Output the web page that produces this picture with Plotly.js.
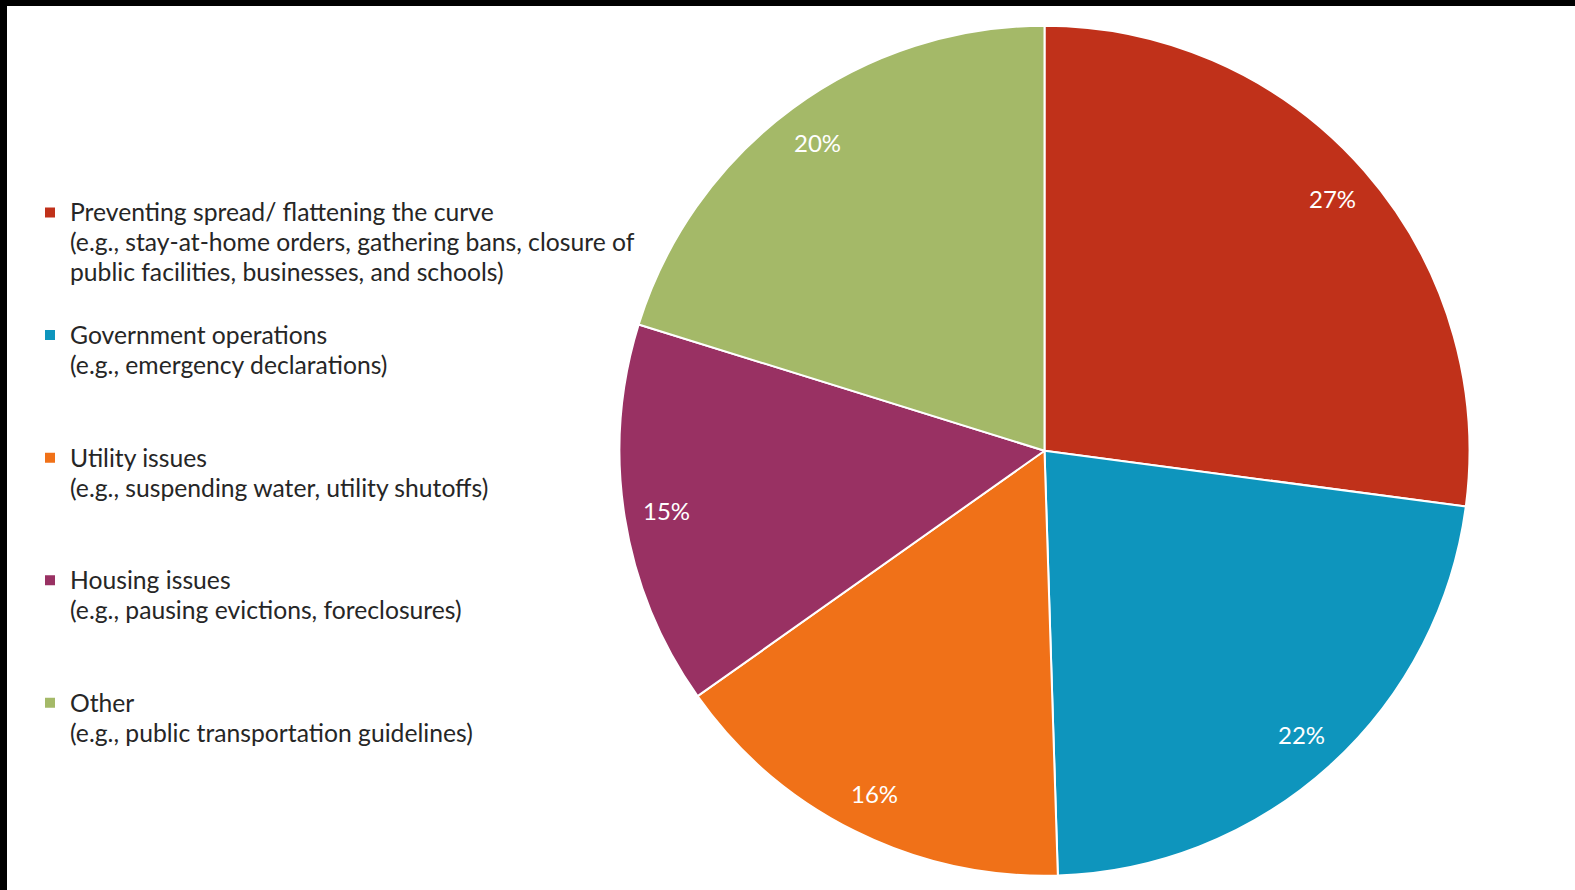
<!DOCTYPE html>
<html>
<head>
<meta charset="utf-8">
<script src="https://cdn.plot.ly/plotly-3.0.1.min.js"></script>
<style>
  html, body { margin: 0; padding: 0; background: #ffffff; }
  #chart { width: 1575px; height: 890px; }
</style>
</head>
<body>
<div id="chart"></div>
<script>
const categories = [
  "Preventing spread/ flattening the curve",
  "Government operations",
  "Utility issues",
  "Housing issues",
  "Other"
];
const examples = [
  "(e.g., stay-at-home orders, gathering bans, closure of<br>public facilities, businesses, and schools)",
  "(e.g., emergency declarations)",
  "(e.g., suspending water, utility shutoffs)",
  "(e.g., pausing evictions, foreclosures)",
  "(e.g., public transportation guidelines)"
];
const shares = [27.1, 22.4, 15.7, 14.6, 20.2];
const colors = ["#C0311A", "#0E95BD", "#F07118", "#993163", "#A4B968"];

const W = 1575, H = 890;
const cx = 1044.5, cyTop = 450.7, R = 425;
const dom = {
  x: [(cx - R) / W, (cx + R) / W],
  y: [(H - cyTop - R) / H, (H - cyTop + R) / H]
};

// legend labels padded to equal 4-line height
const NB = "\u00a0";
const labels = categories.map((c, i) => {
  const lines = [c].concat(examples[i].split("<br>"));
  while (lines.length < 4) lines.push(NB);
  return lines.map(l => '<span style="font-size:24.7px">' + l + '</span>').join("<br>");
});

// percentage labels placed along each slice's mid-angle
const total = shares.reduce((a, b) => a + b, 0);
const annotations = [];
let cum = 0;
shares.forEach((v) => {
  const mid = (cum + v / 2) / total * 2 * Math.PI;
  cum += v;
  const px = cx + 0.90 * R * Math.sin(mid);
  const py = cyTop - 0.90 * R * Math.cos(mid);
  annotations.push({
    x: px / W, y: 1 - py / H, xref: "paper", yref: "paper",
    text: Math.round(v / total * 100) + "%",
    showarrow: false, xanchor: "center", yanchor: "middle",
    font: { family: "Lato, sans-serif", size: 24, color: "#ffffff" }
  });
});

const trace = {
  type: "pie",
  labels: labels,
  values: shares,
  sort: false,
  direction: "clockwise",
  rotation: 0,
  marker: { colors: colors, line: { color: "#ffffff", width: 2 } },
  textinfo: "none",
  hoverinfo: "none",
  domain: dom
};

const layout = {
  width: W, height: H,
  margin: { l: 0, r: 0, t: 0, b: 0, autoexpand: false },
  paper_bgcolor: "#ffffff",
  showlegend: true,
  legend: {
    xref: "paper", yref: "paper",
    x: 30 / W, y: 1 - 191 / H, xanchor: "left", yanchor: "top",
    valign: "top",
    font: { family: "Lato, sans-serif", size: 23, color: "#262626" },
    bgcolor: "rgba(0,0,0,0)"
  },
  annotations: annotations,
  shapes: [
    { type: "rect", xref: "paper", yref: "paper", x0: 0, x1: 1, y0: 1 - 6 / H, y1: 1, fillcolor: "#000000", line: { width: 0 }, layer: "above" },
    { type: "rect", xref: "paper", yref: "paper", x0: 0, x1: 7 / W, y0: 0, y1: 1, fillcolor: "#000000", line: { width: 0 }, layer: "above" }
  ]
};

Plotly.newPlot("chart", [trace], layout, { displayModeBar: false, staticPlot: true });
</script>
</body>
</html>
